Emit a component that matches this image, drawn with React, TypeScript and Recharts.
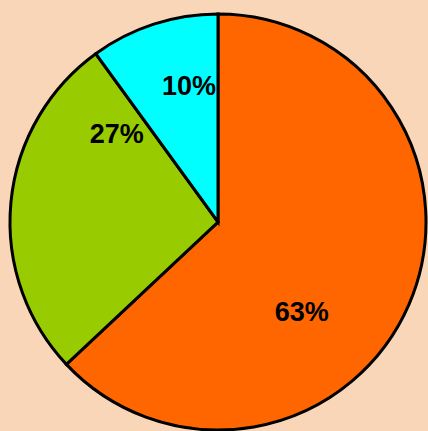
import React from 'react'
import { PieChart, Pie, Cell } from 'recharts'

const categories = ['A', 'B', 'C']
const values = [63, 27, 10]
const colors = ['#FF6600', '#99CC00', '#00FFFF']

// where each percent label sits: polar angle (recharts degrees) and fraction of the radius
const labelPlacement = [
  { angle: -47, r: 0.59 },
  { angle: 139, r: 0.645 },
  { angle: 102, r: 0.67 },
]

const RADIAN = Math.PI / 180

const chartData = categories.map((name, i) => ({ name, value: values[i] }))

function renderLabel(props: any) {
  const { cx, cy, outerRadius, percent, index } = props
  const place = labelPlacement[index]
  const r = outerRadius * place.r
  const x = cx + r * Math.cos(-place.angle * RADIAN)
  const y = cy + r * Math.sin(-place.angle * RADIAN)
  return (
    <text
      x={x}
      y={y}
      fill="#000"
      textAnchor="middle"
      dominantBaseline="central"
      fontFamily="'Liberation Sans', Arial, sans-serif"
      fontWeight="bold"
      fontSize={27}
    >
      {`${Math.round(percent * 100)}%`}
    </text>
  )
}

export default function App() {
  return (
    <div
      style={{
        position: 'absolute',
        left: 0,
        top: 0,
        width: 428,
        height: 431,
        background: '#FAD6B8',
      }}
    >
      <PieChart width={428} height={431} margin={{ top: 0, right: 0, bottom: 0, left: 0 }}>
        <Pie
          data={chartData}
          dataKey="value"
          nameKey="name"
          cx={218}
          cy={222}
          outerRadius={208}
          startAngle={90}
          endAngle={-270}
          stroke="#000"
          strokeWidth={3}
          label={renderLabel}
          labelLine={false}
          isAnimationActive={false}
        >
          {chartData.map((entry, i) => (
            <Cell key={entry.name} fill={colors[i]} />
          ))}
        </Pie>
      </PieChart>
    </div>
  )
}
